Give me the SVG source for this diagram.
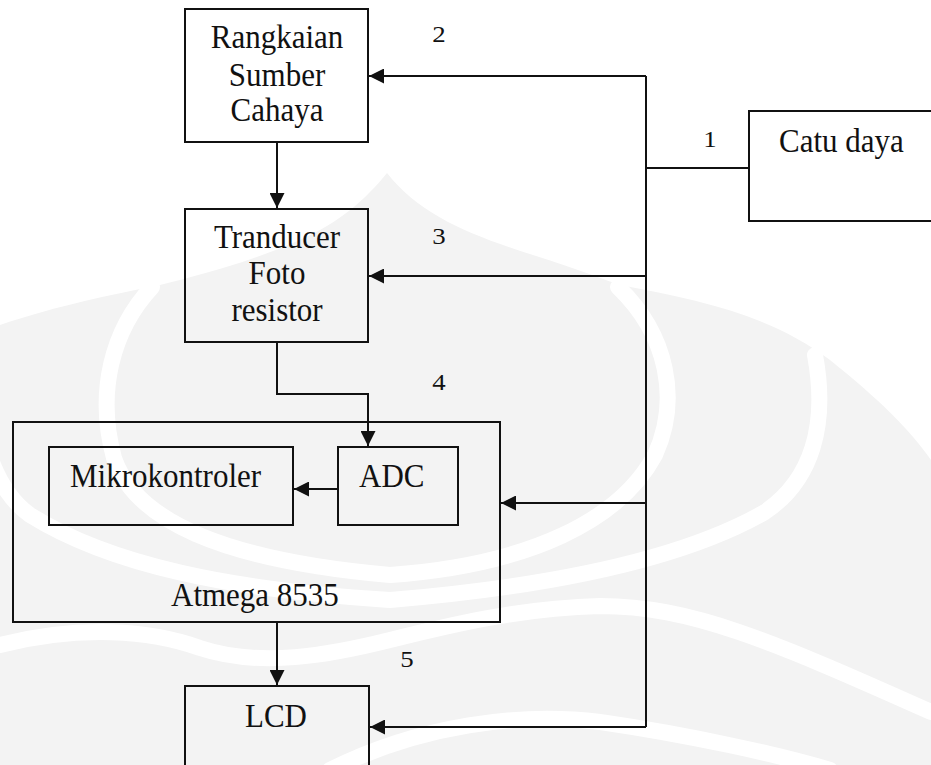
<svg xmlns="http://www.w3.org/2000/svg" width="931" height="765" viewBox="0 0 931 765">
<style>
.box{fill:none;stroke:#111;stroke-width:2}
.wire{fill:none;stroke:#111;stroke-width:2}
.t{font-family:"Liberation Serif","Times New Roman",serif;font-size:31px;fill:#111}
.n{font-family:"Liberation Serif","Times New Roman",serif;font-size:24px;fill:#111;text-anchor:middle}
.wm{fill:#f3f3f3}
.band{fill:none;stroke:#ffffff;stroke-width:16;stroke-linecap:round}
</style>
<defs>
<marker id="ah" markerUnits="userSpaceOnUse" markerWidth="16" markerHeight="15" refX="15" refY="7.5" orient="auto">
<path d="M0,0 L15,7.5 L0,15 Z" fill="#111"/>
</marker>
</defs>
<rect width="931" height="765" fill="#ffffff"/>
<g id="watermark">
<path class="wm" d="M387,173 C420,215 470,235 533,255 C580,270 600,278 620,285 C700,300 770,315 830,360 C880,400 910,430 931,460 L931,765 L0,765 L0,325 C60,305 110,295 160,285 C200,275 250,262 300,240 C340,222 365,200 387,173 Z"/>
<path class="band" d="M152,287 C112,330 96,392 114,458 C135,520 220,560 390,575 C530,565 620,520 655,455 C680,400 668,335 618,287"/>
<path class="band" d="M815,355 C828,425 812,480 765,512 C690,555 570,585 390,600 C230,590 110,565 30,515 C-5,490 -20,440 -25,380"/>
<path class="band" d="M0,645 C80,625 150,630 200,648 C260,668 330,655 390,640 C450,625 520,608 600,606 C690,606 770,640 931,712"/>
<path class="band" d="M330,770 C420,725 520,712 600,722 C690,735 780,755 830,770"/>
</g>
<g id="connectors">
<path class="wire" d="M646,76 V727"/>
<path class="wire" d="M646,168 H749"/>
<path class="wire" d="M646,76 H369" marker-end="url(#ah)"/>
<path class="wire" d="M646,276 H369" marker-end="url(#ah)"/>
<path class="wire" d="M646,503 H501" marker-end="url(#ah)"/>
<path class="wire" d="M646,727 H370" marker-end="url(#ah)"/>
<path class="wire" d="M277,142 V208" marker-end="url(#ah)"/>
<path class="wire" d="M277,342 V394 H368 V446" marker-end="url(#ah)"/>
<path class="wire" d="M338,489 H294" marker-end="url(#ah)"/>
<path class="wire" d="M277,622 V685" marker-end="url(#ah)"/>
</g>
<g id="labels">
<text class="n" transform="translate(439,42) scale(1.12,0.97)">2</text>
<text class="n" transform="translate(710,147) scale(1.12,0.97)">1</text>
<text class="n" transform="translate(439,244) scale(1.12,0.97)">3</text>
<text class="n" transform="translate(439,390) scale(1.12,0.97)">4</text>
<text class="n" transform="translate(407,667) scale(1.12,0.97)">5</text>
</g>
<g id="rangkaian">
<rect class="box" x="185" y="9" width="183" height="133"/>
<text class="t" text-anchor="middle" transform="translate(277,48) scale(1,1.1)">Rangkaian</text>
<text class="t" text-anchor="middle" transform="translate(277,86) scale(1,1.1)">Sumber</text>
<text class="t" text-anchor="middle" transform="translate(277,121) scale(1,1.1)">Cahaya</text>
</g>
<g id="catu-daya">
<rect class="box" x="749" y="111" width="200" height="110"/>
<text class="t" transform="translate(779,152) scale(1,1.1)">Catu daya</text>
</g>
<g id="tranducer">
<rect class="box" x="185" y="209" width="183" height="133"/>
<text class="t" text-anchor="middle" transform="translate(277,248) scale(1,1.1)">Tranducer</text>
<text class="t" text-anchor="middle" transform="translate(277,284) scale(1,1.1)">Foto</text>
<text class="t" text-anchor="middle" transform="translate(277,321) scale(1,1.1)">resistor</text>
</g>
<g id="atmega">
<rect class="box" x="13" y="422" width="487" height="200"/>
<text class="t" transform="translate(171,606) scale(1,1.1)">Atmega 8535</text>
</g>
<g id="mikrokontroler">
<rect class="box" x="49" y="447" width="244" height="78"/>
<text class="t" transform="translate(70,487) scale(1,1.1)">Mikrokontroler</text>
</g>
<g id="adc">
<rect class="box" x="338" y="447" width="120" height="78"/>
<text class="t" transform="translate(359,487) scale(1,1.1)">ADC</text>
</g>
<g id="lcd">
<rect class="box" x="185" y="686" width="184" height="100"/>
<text class="t" text-anchor="middle" transform="translate(276,727) scale(1,1.1)">LCD</text>
</g>
</svg>
